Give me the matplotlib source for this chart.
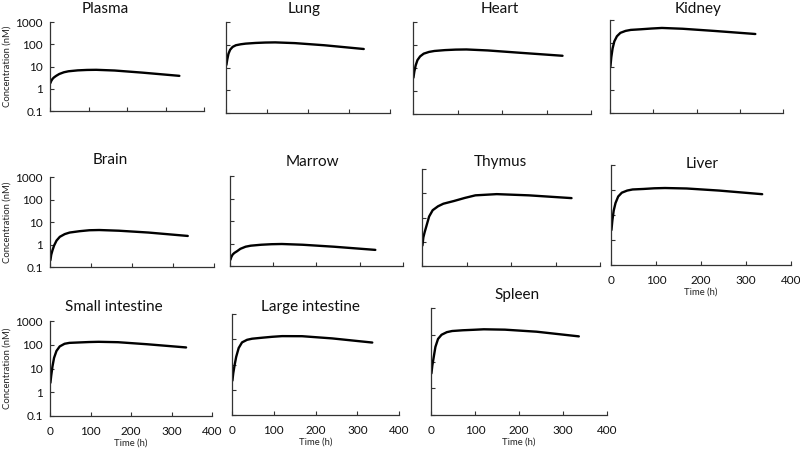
import matplotlib
matplotlib.use("Agg")
import matplotlib.pyplot as plt
from matplotlib.ticker import FixedLocator, NullLocator, FixedFormatter

plt.rcParams['font.family'] = ['Lato', 'DejaVu Sans']

# sampling times (h)
time_h = [1, 3, 6, 10, 16, 24, 36, 48, 72, 96, 120, 168, 240, 336]

# concentrations (nM)
plasma = [1.8, 2.2, 2.7, 3.2, 3.8, 4.6, 5.5, 6.1, 6.7, 7.0, 7.1, 6.6, 5.3, 3.8]
lung = [13, 22, 40, 60, 80, 95, 105, 112, 120, 125, 127, 118, 95, 65]
heart = [3.8, 7, 13, 22, 32, 42, 50, 55, 60, 63, 64, 58, 46, 34]
kidney = [10, 25, 60, 120, 200, 280, 340, 375, 400, 430, 455, 420, 340, 250]
brain = [0.2, 0.35, 0.55, 0.9, 1.5, 2.2, 2.9, 3.4, 3.9, 4.3, 4.4, 4.1, 3.4, 2.4]
marrow = [0.19, 0.25, 0.32, 0.38, 0.45, 0.58, 0.72, 0.8, 0.88, 0.93, 0.95, 0.88, 0.72, 0.52]
thymus = [0.7, 1.5, 2.5, 4.5, 11, 20, 29, 37, 48, 64, 82, 92, 82, 63]
liver = [2.5, 6, 15, 30, 55, 78, 95, 105, 110, 117, 120, 115, 95, 68]
small_int = [2.5, 5, 12, 28, 55, 85, 110, 120, 125, 130, 133, 128, 105, 77]
large_int = [2.3, 4.5, 9, 20, 45, 75, 95, 105, 115, 125, 133, 132, 108, 74]
spleen = [3.6, 7, 14, 35, 70, 100, 125, 138, 147, 153, 160, 155, 130, 87]

names = ['Plasma', 'Lung', 'Heart', 'Kidney', 'Brain', 'Marrow', 'Thymus',
         'Liver', 'Small intestine', 'Large intestine', 'Spleen']
series = [plasma, lung, heart, kidney, brain, marrow, thymus, liver,
          small_int, large_int, spleen]

y_ticks = [0.1, 1, 10, 100, 1000]
y_labels = ['0.1', '1', '10', '100', '1000']
x_ticks = [0, 100, 200, 300, 400]

# panel boxes in pixels: left, top, right, bottom
boxes = [(50, 22, 204, 111), (226, 22, 390, 113), (413, 22, 591, 114),
         (610, 20, 783, 113), (50, 177, 214, 267), (230, 176, 403, 266),
         (422, 169, 600, 266), (611, 165, 791, 265), (50, 321, 212, 416),
         (232, 314, 399, 415), (431, 308, 607, 415)]
# title centres in pixels
title_pos = [(105, 9), (304, 9), (500, 9), (698, 9), (110, 160), (312, 162),
             (500, 162), (702, 164), (114, 307), (310, 307), (517, 295)]
show_y = [True, False, False, False, True, False, False, False, True, False, False]
show_x = [False, False, False, False, False, False, False, True, True, True, True]

W, H = 800, 450
fig = plt.figure(figsize=(8, 4.5), dpi=100)

for i, name in enumerate(names):
    l, t, r, b = boxes[i]
    ax = fig.add_axes([l / W, 1 - b / H, (r - l) / W, (b - t) / H])
    ax.plot(time_h, series[i], color='black', lw=1.7, solid_capstyle='round')
    ax.set_yscale('log')
    ax.set_ylim(0.1, 1000)
    ax.set_xlim(0, 400)
    for s in ['top', 'right']:
        ax.spines[s].set_visible(False)
    for s in ['left', 'bottom']:
        ax.spines[s].set_color('#333333')
        ax.spines[s].set_linewidth(0.9)
    ax.yaxis.set_major_locator(FixedLocator(y_ticks))
    ax.yaxis.set_minor_locator(NullLocator())
    ax.set_xticks(x_ticks)
    ax.tick_params(direction='in', length=3, width=0.8, color='#333333',
                   labelsize=8.5, labelcolor='#111111')
    ax.tick_params(axis='x', pad=7)
    ax.tick_params(axis='y', pad=5)
    if show_y[i]:
        ax.yaxis.set_major_formatter(FixedFormatter(y_labels))
        ax.set_ylabel('Concentration (nM)', fontsize=6.8, color='#222222', labelpad=3)
    else:
        ax.set_yticklabels([])
    if show_x[i]:
        ax.set_xlabel('Time (h)', fontsize=6.8, color='#222222', labelpad=1)
    else:
        ax.set_xticklabels([])
    tx, ty = title_pos[i]
    fig.text(tx / W, 1 - ty / H, name, ha='center', va='center', fontsize=11,
             color='#111111')

fig.savefig('out.png', dpi=100)
